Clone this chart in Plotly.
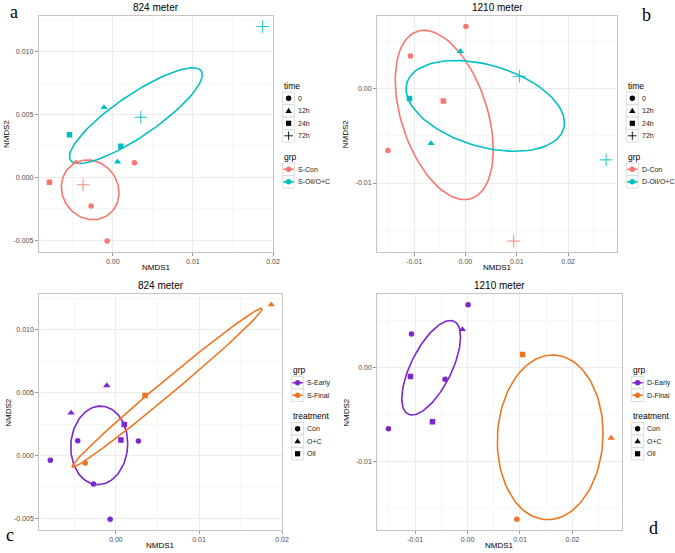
import numpy as np
import plotly.graph_objects as go

# ---------------- data: 824 meter ----------------
s_x = [0.0187, -0.0011, 0.0035, -0.0054, 0.0010, 0.0006, 0.0027, -0.0046, -0.0079, -0.0037, -0.0027, -0.0007]
s_y = [0.0120, 0.00556, 0.00478, 0.00339, 0.00246, 0.00123, 0.00116, 0.00118, -0.00039, -0.0006, -0.00228, -0.00508]
s_time = ["72h", "12h", "72h", "24h", "24h", "12h", "0", "12h", "24h", "72h", "0", "0"]
s_grp_time = ["S-Oil/O+C"] * 6 + ["S-Con"] * 6
s_treat = ["O+C", "O+C", "Oil", "O+C", "Oil", "Oil", "Con", "Con", "Con", "Con", "Con", "Con"]
s_grp_stage = ["S-Final", "S-Early", "S-Final", "S-Early", "S-Early", "S-Early",
               "S-Early", "S-Early", "S-Early", "S-Final", "S-Early", "S-Early"]

# ---------------- data: 1210 meter ----------------
d_x = [0.0001, -0.0107, -0.0010, 0.0105, -0.0109, -0.0043, -0.0067, -0.0151, 0.0274, 0.0094]
d_y = [0.00663, 0.00351, 0.0040, 0.00133, -0.00101, -0.00128, -0.0058, -0.00654, -0.00754, -0.01617]
d_time = ["0", "0", "12h", "72h", "24h", "24h", "12h", "0", "72h", "72h"]
d_grp_time = ["D-Con", "D-Con", "D-Oil/O+C", "D-Oil/O+C", "D-Oil/O+C", "D-Con",
              "D-Oil/O+C", "D-Con", "D-Oil/O+C", "D-Con"]
d_treat = ["Con", "Con", "O+C", "Oil", "Oil", "Con", "Oil", "Con", "O+C", "Con"]
d_grp_stage = ["D-Early", "D-Early", "D-Early", "D-Final", "D-Early", "D-Early",
               "D-Early", "D-Early", "D-Final", "D-Final"]

time_levels = ["0", "12h", "24h", "72h"]
treat_levels = ["Con", "O+C", "Oil"]

x_ticks_824 = [0.0, 0.01, 0.02]
x_labels_824 = ["0.00", "0.01", "0.02"]
y_ticks_824 = [-0.005, 0.0, 0.005, 0.010]
y_labels_824 = ["-0.005", "0.000", "0.005", "0.010"]
x_ticks_1210 = [-0.01, 0.0, 0.01, 0.02]
x_labels_1210 = ["-0.01", "0.00", "0.01", "0.02"]
y_ticks_1210 = [-0.01, 0.0]
y_labels_1210 = ["-0.01", "0.00"]

# ---------------- style ----------------
W, H = 675, 553
FONT = "Liberation Sans, Arial, sans-serif"
SERIF = "Liberation Serif, Times New Roman, serif"
symbols_time = {"0": "circle", "12h": "triangle-up", "24h": "square", "72h": "cross-thin"}
symbols_treat = {"Con": "circle", "O+C": "triangle-up", "Oil": "square"}
sizes = {"circle": 5.5, "triangle-up": 6.5, "square": 5.5, "cross-thin": 9}
col = {"S-Con": "#F8766D", "S-Oil/O+C": "#00BFC4", "D-Con": "#F8766D", "D-Oil/O+C": "#00BFC4",
       "S-Early": "#7D26CD", "S-Final": "#EE7621", "D-Early": "#7D26CD", "D-Final": "#EE7621"}


def rng(v):
    lo, hi = min(v), max(v)
    pad = 0.05 * (hi - lo)
    return [lo - pad, hi + pad]


def minor_vals(ticks, r):
    step = ticks[1] - ticks[0]
    vals = []
    v = ticks[0] - step / 2
    while v > r[0]:
        vals.append(v)
        v -= step
    v = ticks[0] + step / 2
    while v < r[1]:
        vals.append(v)
        v += step
    return vals


def ellipse(xs, ys, npoints=100):
    pts = np.column_stack([xs, ys])
    center = pts.mean(axis=0)
    cov = np.cov(pts.T)
    R = np.linalg.cholesky(cov).T
    th = np.linspace(0, 2 * np.pi, npoints + 1)
    circ = np.column_stack([np.cos(th), np.sin(th)])
    e = circ @ R + center
    return e[:, 0], e[:, 1]


def PX(x):
    return x / W


def PY(y):
    return 1 - y / H


fig = go.Figure()

panels = [
    dict(x=s_x, y=s_y, grp=s_grp_time, glev=["S-Con", "S-Oil/O+C"], shp=s_time, slev=time_levels,
         smap=symbols_time, stitle="time", xd=(38.8, 273.3), yd=(15.8, 251.8),
         xt=x_ticks_824, xl=x_labels_824, yt=y_ticks_824, yl=y_labels_824, title="824 meter",
         shape_first=True),
    dict(x=d_x, y=d_y, grp=d_grp_time, glev=["D-Con", "D-Oil/O+C"], shp=d_time, slev=time_levels,
         smap=symbols_time, stitle="time", xd=(377.0, 617.0), yd=(15.8, 251.8),
         xt=x_ticks_1210, xl=x_labels_1210, yt=y_ticks_1210, yl=y_labels_1210, title="1210 meter",
         shape_first=True),
    dict(x=s_x, y=s_y, grp=s_grp_stage, glev=["S-Early", "S-Final"], shp=s_treat, slev=treat_levels,
         smap=symbols_treat, stitle="treatment", xd=(39.3, 282.3), yd=(294.0, 530.0),
         xt=x_ticks_824, xl=x_labels_824, yt=y_ticks_824, yl=y_labels_824, title="824 meter",
         shape_first=False),
    dict(x=d_x, y=d_y, grp=d_grp_stage, glev=["D-Early", "D-Final"], shp=d_treat, slev=treat_levels,
         smap=symbols_treat, stitle="treatment", xd=(377.3, 622.3), yd=(294.0, 530.0),
         xt=x_ticks_1210, xl=x_labels_1210, yt=y_ticks_1210, yl=y_labels_1210, title="1210 meter",
         shape_first=False),
]

layout = dict(width=W, height=H, margin=dict(l=0, r=0, t=0, b=0),
              paper_bgcolor="white", plot_bgcolor="white",
              font=dict(family=FONT, color="#000"), showlegend=False,
              annotations=[], shapes=[])
ann = layout["annotations"]
shp = layout["shapes"]


def key_glyph(cx, cy, symbol, color):
    """legend key glyph drawn as a layout shape, positions in pixels"""
    if symbol == "circle":
        r = 2.7
        shp.append(dict(type="circle", xref="paper", yref="paper", x0=PX(cx - r), x1=PX(cx + r),
                        y0=PY(cy + r), y1=PY(cy - r), fillcolor=color, line=dict(width=0)))
    elif symbol == "square":
        r = 2.6
        shp.append(dict(type="rect", xref="paper", yref="paper", x0=PX(cx - r), x1=PX(cx + r),
                        y0=PY(cy + r), y1=PY(cy - r), fillcolor=color, line=dict(width=0)))
    elif symbol == "triangle-up":
        h, s = 5.2, 3.2
        path = (f"M{PX(cx)},{PY(cy - h * 0.6)} L{PX(cx + s)},{PY(cy + h * 0.4)} "
                f"L{PX(cx - s)},{PY(cy + h * 0.4)} Z")
        shp.append(dict(type="path", xref="paper", yref="paper", path=path,
                        fillcolor=color, line=dict(width=0)))
    elif symbol == "cross-thin":
        r = 4.3
        shp.append(dict(type="line", xref="paper", yref="paper", x0=PX(cx - r), x1=PX(cx + r),
                        y0=PY(cy), y1=PY(cy), line=dict(color=color, width=0.9)))
        shp.append(dict(type="line", xref="paper", yref="paper", x0=PX(cx), x1=PX(cx),
                        y0=PY(cy - r), y1=PY(cy + r), line=dict(color=color, width=0.9)))


def draw_legend(box_left, blocks, center_y):
    pitch, gap = 12.5, 21.0
    span = 0.0
    for bi, (t, entries) in enumerate(blocks):
        span += pitch * len(entries)
        if bi < len(blocks) - 1:
            span += gap
    cur = center_y - span / 2
    for bi, (t, entries) in enumerate(blocks):
        ann.append(dict(text=t, xref="paper", yref="paper", showarrow=False,
                        x=PX(box_left - 0.5), y=PY(cur), xanchor="left", yanchor="middle",
                        font=dict(size=8.5, color="#000")))
        for k, (label, kind, color, symbol) in enumerate(entries):
            cy = cur + pitch * (k + 1)
            bw = 12.0
            shp.append(dict(type="rect", xref="paper", yref="paper",
                            x0=PX(box_left), x1=PX(box_left + bw),
                            y0=PY(cy + pitch / 2), y1=PY(cy - pitch / 2),
                            fillcolor="white", line=dict(color="#D6D6D6", width=0.8)))
            cx = box_left + bw / 2
            if kind == "grp":
                shp.append(dict(type="line", xref="paper", yref="paper",
                                x0=PX(box_left + 0.8), x1=PX(box_left + bw - 0.8),
                                y0=PY(cy), y1=PY(cy), line=dict(color=color, width=1.6)))
            key_glyph(cx, cy, symbol, color)
            ann.append(dict(text=label, xref="paper", yref="paper", showarrow=False,
                            x=PX(box_left + bw + 1.5), y=PY(cy), xanchor="left", yanchor="middle",
                            font=dict(size=7, color="#222")))
        cur = cur + pitch * len(entries) + gap


for i, p in enumerate(panels):
    k = i + 1
    xa = "x" if k == 1 else f"x{k}"
    ya = "y" if k == 1 else f"y{k}"
    xr = rng(p["x"])
    yr = rng(p["y"])
    common = dict(showline=True, mirror=True, linecolor="#C4C4C4", linewidth=1,
                  showgrid=True, gridcolor="#EBEBEB", gridwidth=1, zeroline=False,
                  ticks="outside", ticklen=3, tickcolor="#9A9A9A", tickwidth=1,
                  tickfont=dict(size=7, color="#4D4D4D", family=FONT), tickmode="array",
                  automargin=False)
    layout["xaxis" if k == 1 else f"xaxis{k}"] = dict(
        common, domain=[PX(p["xd"][0]), PX(p["xd"][1])], range=xr, anchor=ya,
        tickvals=p["xt"], ticktext=p["xl"],
        minor=dict(tickmode="array", tickvals=minor_vals(p["xt"], xr), showgrid=True,
                   gridcolor="#F6F6F6", ticks=""))
    layout["yaxis" if k == 1 else f"yaxis{k}"] = dict(
        common, domain=[PY(p["yd"][1]), PY(p["yd"][0])], range=yr, anchor=xa,
        tickvals=p["yt"], ticktext=p["yl"],
        minor=dict(tickmode="array", tickvals=minor_vals(p["yt"], yr), showgrid=True,
                   gridcolor="#F6F6F6", ticks=""))

    xc = (p["xd"][0] + p["xd"][1]) / 2
    yc = (p["yd"][0] + p["yd"][1]) / 2
    ann.append(dict(text=p["title"], xref="paper", yref="paper", showarrow=False,
                    x=PX(xc), y=PY(p["yd"][0] - 8.5), xanchor="center", yanchor="middle",
                    font=dict(size=10, color="#000")))
    ann.append(dict(text="NMDS1", xref="paper", yref="paper", showarrow=False,
                    x=PX(xc), y=PY(p["yd"][1] + 15.5), xanchor="center", yanchor="middle",
                    font=dict(size=8, color="#000")))
    ann.append(dict(text="NMDS2", xref="paper", yref="paper", showarrow=False, textangle=-90,
                    x=PX(p["xd"][0] - 31.5), y=PY(yc), xanchor="center", yanchor="middle",
                    font=dict(size=8, color="#000")))

    for g in p["glev"]:
        idx = [j for j, gg in enumerate(p["grp"]) if gg == g]
        ex, ey = ellipse([p["x"][j] for j in idx], [p["y"][j] for j in idx])
        fig.add_trace(go.Scatter(x=ex, y=ey, mode="lines", xaxis=xa, yaxis=ya,
                                 line=dict(color=col[g], width=1.6), showlegend=False,
                                 hoverinfo="skip"))
    for g in p["glev"]:
        for s in p["slev"]:
            idx = [j for j in range(len(p["x"])) if p["grp"][j] == g and p["shp"][j] == s]
            if not idx:
                continue
            sym = p["smap"][s]
            fig.add_trace(go.Scatter(
                x=[p["x"][j] for j in idx], y=[p["y"][j] for j in idx], mode="markers",
                xaxis=xa, yaxis=ya, showlegend=False, name=f"{g} {s}",
                marker=dict(symbol=sym, size=sizes[sym], color=col[g],
                            line=dict(width=0.9 if sym == "cross-thin" else 0, color=col[g]))))

    shape_block = (p["stitle"], [(s, "shape", "#000", p["smap"][s]) for s in p["slev"]])
    grp_block = ("grp", [(g, "grp", col[g], "circle") for g in p["glev"]])
    blocks = [shape_block, grp_block] if p["shape_first"] else [grp_block, shape_block]
    draw_legend(p["xd"][1] + 9.3, blocks, yc)

letters = [("a", 14.5, 12.0), ("b", 646, 15.0), ("c", 10, 534.5), ("d", 653, 528)]
for t, lx, ly in letters:
    ann.append(dict(text=t, xref="paper", yref="paper", showarrow=False, x=PX(lx), y=PY(ly),
                    xanchor="center", yanchor="middle",
                    font=dict(size=18, family=SERIF, color="#000")))

fig.update_layout(**layout)
fig.write_html("out.html", config={"displayModeBar": False},
               post_script="document.body.style.margin='0px';document.body.style.padding='0px';")
